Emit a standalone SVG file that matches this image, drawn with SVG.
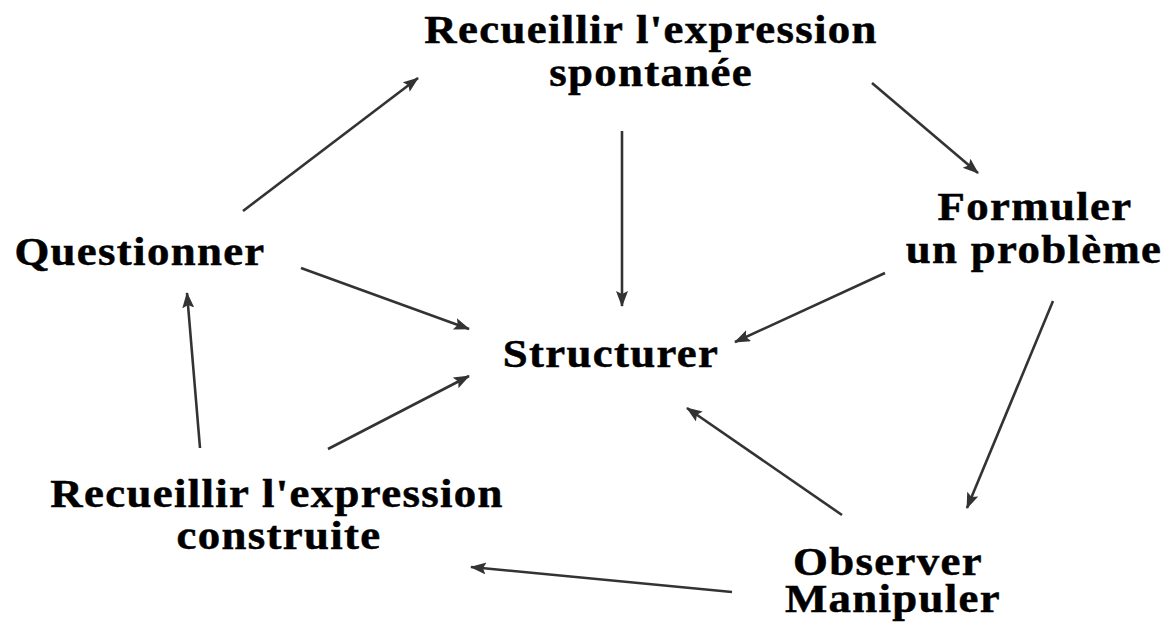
<svg xmlns="http://www.w3.org/2000/svg" width="1168" height="628" viewBox="0 0 1168 628">
<style>
.t{font-family:"Liberation Serif","Times New Roman",serif;font-weight:bold;font-size:40px;letter-spacing:1.2px;fill:#000;stroke:#000;stroke-width:0.5px;text-anchor:middle}
.c line{stroke:#333;stroke-width:2.6;marker-end:url(#ah)}
</style>
<defs>
<marker id="ah" markerUnits="userSpaceOnUse" markerWidth="18" markerHeight="14" refX="15" refY="6" orient="auto">
<path d="M0,0 L16,6 L0,12 L3,6 z" fill="#333"/>
</marker>
</defs>
<rect width="1168" height="628" fill="#fff"/>
<g id="connectors" class="c">
<line x1="243" y1="211" x2="418" y2="78"/>
<line x1="622" y1="131" x2="622" y2="306"/>
<line x1="872" y1="83" x2="978" y2="173"/>
<line x1="885" y1="273" x2="735" y2="342"/>
<line x1="1053" y1="301" x2="967" y2="508"/>
<line x1="842" y1="515" x2="687" y2="408"/>
<line x1="732" y1="592" x2="471" y2="567"/>
<line x1="301" y1="268" x2="469" y2="329"/>
<line x1="328" y1="449" x2="469" y2="376"/>
<line x1="200" y1="448" x2="187" y2="293"/>
</g>
<g id="n-spontanee"><text class="t" transform="translate(651 43) scale(1.12 1)">Recueillir l'expression</text><text class="t" transform="translate(651 86) scale(1.12 1)">spontanée</text></g>
<g id="n-formuler"><text class="t" transform="translate(1035 220) scale(1.12 1)">Formuler</text><text class="t" transform="translate(1034 263) scale(1.12 1)">un problème</text></g>
<g id="n-questionner"><text class="t" transform="translate(140 265) scale(1.12 1)">Questionner</text></g>
<g id="n-structurer"><text class="t" transform="translate(611 367) scale(1.12 1)">Structurer</text></g>
<g id="n-construite"><text class="t" transform="translate(277 507) scale(1.12 1)">Recueillir l'expression</text><text class="t" transform="translate(279 549) scale(1.12 1)">construite</text></g>
<g id="n-observer"><text class="t" transform="translate(888 575) scale(1.12 1)">Observer</text><text class="t" transform="translate(893 612) scale(1.12 1)">Manipuler</text></g>
</svg>
